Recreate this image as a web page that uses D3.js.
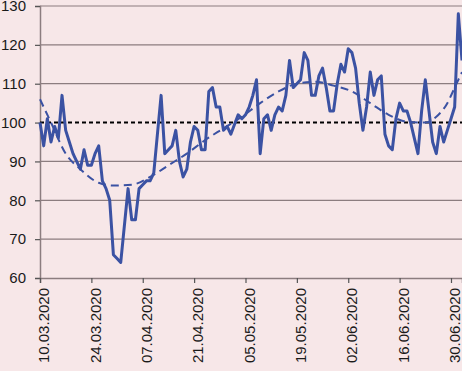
<!DOCTYPE html>
<html>
<head>
<meta charset="utf-8">
<script src="https://cdn.jsdelivr.net/npm/d3@7/dist/d3.min.js"></script>
<style>
  html, body { margin: 0; padding: 0; background: #f7e7e8; }
  svg { display: block; }
  text { font-family: "Liberation Sans", Arial, sans-serif; }
</style>
</head>
<body>
<svg id="chart" width="462" height="371"></svg>
<script>
// ---- data ----
const dates = [
  "2020-03-10","2020-03-11","2020-03-12","2020-03-13","2020-03-14","2020-03-15","2020-03-16","2020-03-17",
  "2020-03-18","2020-03-19","2020-03-20","2020-03-21","2020-03-22","2020-03-23","2020-03-24","2020-03-25",
  "2020-03-26","2020-03-27","2020-03-28","2020-03-29","2020-03-30","2020-03-31","2020-04-01","2020-04-03",
  "2020-04-04","2020-04-05","2020-04-06","2020-04-07","2020-04-08","2020-04-09","2020-04-10","2020-04-11",
  "2020-04-12","2020-04-13","2020-04-14","2020-04-15","2020-04-16","2020-04-17","2020-04-18","2020-04-19",
  "2020-04-20","2020-04-21","2020-04-22","2020-04-23","2020-04-24","2020-04-25","2020-04-26","2020-04-27",
  "2020-04-28","2020-04-29","2020-04-30","2020-05-01","2020-05-03","2020-05-04","2020-05-05","2020-05-06",
  "2020-05-07","2020-05-08","2020-05-09","2020-05-10","2020-05-11","2020-05-12","2020-05-13","2020-05-14",
  "2020-05-15","2020-05-16","2020-05-17","2020-05-18","2020-05-19","2020-05-20","2020-05-21","2020-05-22",
  "2020-05-23","2020-05-24","2020-05-25","2020-05-26","2020-05-27","2020-05-28","2020-05-29","2020-05-30",
  "2020-05-31","2020-06-01","2020-06-02","2020-06-03","2020-06-04","2020-06-05","2020-06-06","2020-06-07",
  "2020-06-08","2020-06-09","2020-06-10","2020-06-11","2020-06-12","2020-06-13","2020-06-14","2020-06-15",
  "2020-06-16","2020-06-17","2020-06-18","2020-06-19","2020-06-20","2020-06-21","2020-06-22","2020-06-23",
  "2020-06-24","2020-06-25","2020-06-26","2020-06-27","2020-06-28","2020-06-29","2020-06-30","2020-07-01",
  "2020-07-02","2020-07-03"
];
const values = [
  100, 94, 101, 95, 99, 96, 107, 98,
  95, 92, 90, 88, 93, 89, 89, 92,
  94, 85, 83, 80, 66, 65, 64, 83,
  75, 75, 83, 84, 85, 85, 87, 97,
  107, 92, 93, 94, 98, 90, 86, 88,
  95, 99, 98, 93, 93, 108, 109, 104,
  104, 98, 99, 97, 102, 101, 102, 104,
  107, 111, 92, 101, 102, 98, 102, 104,
  103, 107, 116, 109, 110, 111, 118, 116,
  107, 107, 112, 114, 109, 103, 103, 110,
  115, 113, 119, 118, 114, 105, 98, 104,
  113, 107, 111, 112, 97, 94, 93, 101,
  105, 103, 103, 100, 96, 92, 103, 111,
  103, 95, 92, 99, 95, 98, 101, 104,
  128, 116
];
const trendDates = [
  "2020-03-10","2020-03-13","2020-03-17","2020-03-21","2020-03-26","2020-03-30","2020-04-04","2020-04-09",
  "2020-04-14","2020-04-19","2020-04-24","2020-04-29","2020-05-04","2020-05-09","2020-05-14","2020-05-19",
  "2020-05-24","2020-05-29","2020-06-03","2020-06-08","2020-06-13","2020-06-18","2020-06-23","2020-06-26",
  "2020-06-29","2020-07-01","2020-07-03"
];
const trendValues = [
  106, 100, 92, 88, 84.5, 83.8, 84, 86,
  89, 92, 95.5, 98.5, 101.5, 105, 108, 110,
  110.5, 109.5, 108, 105, 102, 100.2, 100, 101.5,
  105, 109, 113
];
const tickLabels = ["10.03.2020","24.03.2020","07.04.2020","21.04.2020","05.05.2020",
                    "19.05.2020","02.06.2020","16.06.2020","30.06.2020"];
const yTicks = [60, 70, 80, 90, 100, 110, 120, 130];
const refValue = 100;

// ---- chart ----
(function () {
const parseISO = d3.timeParse("%Y-%m-%d");
const parseLbl = d3.timeParse("%d.%m.%Y");
const fmtLbl = d3.timeFormat("%d.%m.%Y");

const svg = d3.select("#chart");
const mLeft = 40, mRight = 462, mTop = 6, mBottom = 278;

const x = d3.scaleTime()
  .domain([parseISO(dates[0]), parseISO(dates[dates.length - 1])])
  .range([mLeft, mRight]);
const y = d3.scaleLinear().domain([60, 130]).range([mBottom, mTop]);

const gridColor = "#8c7d7f";
const lineColor = "#3b52a3";

// gridlines
svg.append("g").selectAll("line")
  .data(yTicks.filter(v => v > 60 && v !== refValue))
  .join("line")
  .attr("x1", mLeft).attr("x2", mRight)
  .attr("y1", d => y(d)).attr("y2", d => y(d))
  .attr("stroke", gridColor).attr("stroke-width", 1.2);

// y axis
const yAxis = svg.append("g")
  .attr("transform", `translate(${mLeft},0)`)
  .call(d3.axisLeft(y).tickValues(yTicks).tickSize(5).tickPadding(9).tickFormat(d3.format("d")));
yAxis.select(".domain").attr("stroke", gridColor).attr("stroke-width", 1.5);
yAxis.selectAll(".tick line").attr("stroke", "#555").attr("stroke-width", 1.2);
yAxis.selectAll(".tick text").attr("fill", "#1a1a1a").style("font-size", "15px")
  .style("font-family", "'Liberation Sans', Arial, sans-serif");

// x axis
const xAxis = svg.append("g")
  .attr("transform", `translate(0,${mBottom})`)
  .call(d3.axisBottom(x).tickValues(tickLabels.map(parseLbl)).tickSize(5).tickFormat(fmtLbl));
xAxis.select(".domain").attr("stroke", gridColor).attr("stroke-width", 1.5);
xAxis.selectAll(".tick line").attr("stroke", "#555").attr("stroke-width", 1.2);
xAxis.selectAll(".tick text")
  .attr("fill", "#1a1a1a")
  .style("font-size", "15px")
  .style("font-family", "'Liberation Sans', Arial, sans-serif")
  .attr("text-anchor", "end")
  .attr("transform", "translate(3.5,10) rotate(-90)")
  .attr("x", 0).attr("y", 0).attr("dy", "0.35em");

// reference line at 100
svg.append("line")
  .attr("x1", mLeft).attr("x2", mRight)
  .attr("y1", y(refValue)).attr("y2", y(refValue))
  .attr("stroke", "#000").attr("stroke-width", 2)
  .attr("stroke-dasharray", "4,3");

// main series
const series = dates.map((d, i) => ({ date: parseISO(d), value: values[i] }));
svg.append("path")
  .datum(series)
  .attr("fill", "none")
  .attr("stroke", lineColor)
  .attr("stroke-width", 3)
  .attr("stroke-linejoin", "round")
  .attr("d", d3.line().x(d => x(d.date)).y(d => y(d.value)));

// trend (dashed)
const trend = trendDates.map((d, i) => ({ date: parseISO(d), value: trendValues[i] }));
svg.append("path")
  .datum(trend)
  .attr("fill", "none")
  .attr("stroke", lineColor)
  .attr("stroke-width", 2)
  .attr("stroke-dasharray", "8,5")
  .attr("d", d3.line().curve(d3.curveMonotoneX).x(d => x(d.date)).y(d => y(d.value)));
})();
</script>
</body>
</html>
